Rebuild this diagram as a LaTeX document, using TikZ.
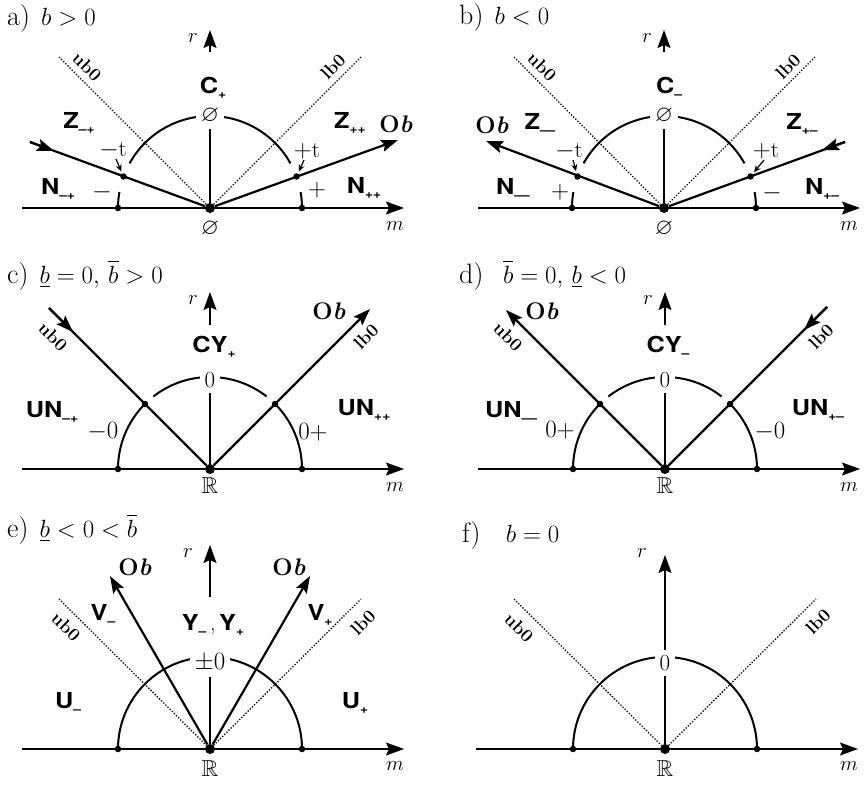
\documentclass[tikz,border=0pt]{standalone}
\usepackage{fontspec,amssymb}
\usetikzlibrary{arrows.meta}
\newfontfamily\hv[FakeStretch=1.15]{TeX Gyre Heros}
\newcommand{\sbl}[2]{{\hv\bfseries #1\raisebox{-0.4ex}{\fontsize{12}{12}\selectfont #2}}}

\begin{document}
\begin{tikzpicture}[x=1pt,y=-1pt,
  axis/.style={line width=1.6pt,-{Stealth[length=18pt,width=13pt,inset=3pt]}},
  rax/.style={line width=1.4pt},
  raxarr/.style={line width=1.6pt,-{Stealth[length=18pt,width=13pt,inset=3pt]}},
  flow/.style={line width=2.2pt},
  flowarr/.style={line width=2.2pt,-{Stealth[length=17pt,width=12pt,inset=3pt]}},
  arcl/.style={line width=2pt},
  bnd/.style={line width=1.3pt,dash pattern=on 1.3pt off 1.7pt},
  dot/.style={circle,fill,inner sep=0pt,minimum size=6.5pt},
  odot/.style={circle,fill,inner sep=0pt,minimum size=10pt},
  tarr/.style={line width=1.2pt,-{Stealth[length=7pt,width=6pt]},shorten >=2pt},
  ttl/.style={anchor=base west,inner sep=0pt,font=\fontsize{28}{33}\selectfont},
  sl/.style={inner sep=0pt,font=\fontsize{22}{26}\selectfont},
  rl/.style={inner sep=0pt,font=\fontsize{23}{27}\selectfont},
  toplbl/.style={inner sep=5pt,fill=white,font=\fontsize{23}{27}\selectfont},
  bl/.style={inner sep=0pt,font=\fontsize{18}{21}\selectfont\bfseries},
  ob/.style={inner sep=0pt,font=\fontsize{24}{28}\selectfont\bfseries},
  vl/.style={inner sep=0pt,font=\fontsize{20}{23}\selectfont}]
\path[use as bounding box] (0,0) rectangle (864,784);

\node[ttl] (a-t) at (7,26) {a)\hspace{0.4em}$b>0$};
\draw[arcl] ([shift={(210,208)}]-180:92) arc[start angle=-180,end angle=-170,radius=92];
\draw[arcl] ([shift={(210,208)}]-151:92) arc[start angle=-151,end angle=-29,radius=92];
\draw[arcl] ([shift={(210,208)}]-10:92) arc[start angle=-10,end angle=0,radius=92];
\node[odot] (a-o) at (210,208) {};
\node[dot] (a-l) at (118,208) {};
\node[dot] (a-r) at (302,208) {};
\node[dot] (a-d1) at (123.5,176.5) {};
\node[dot] (a-d2) at (296.5,176.5) {};
\coordinate (a-m0) at (22,208);
\coordinate (a-m1) at (404,208);
\draw[axis] (a-m0) -- (a-m1);
\node[vl] (a-mm) at (395,226) {$m$};
\node[rl] (a-e) at (210,229) {$\varnothing$};
\node[toplbl] (a-top) at (210,116) {$\varnothing$};
\node[sl] (a-c) at (213,88) {\sbl{C}{+}};
\draw[rax] (a-o) -- (a-top);
\coordinate (a-r0) at (210,52);
\coordinate (a-r1) at (210,30);
\draw[raxarr] (a-r0) -- (a-r1);
\node[vl] (a-rr) at (193,38) {$r$};
\coordinate (a-ub) at (59,57);
\coordinate (a-lb) at (361,57);
\draw[bnd] (a-ub) -- (a-o);
\draw[bnd] (a-o) -- (a-lb);
\node[bl,rotate=-45] (a-ubl) at (87,67) {ub0};
\node[bl,rotate=45] (a-lbl) at (333,67) {lb0};
\coordinate (a-zs) at (30,142);
\coordinate (a-zm) at (54,151);
\draw[flow] (a-zs) -- (a-o);
\draw[flowarr] (a-zs) -- (a-zm);
\coordinate (a-ob) at (398,140);
\draw[flowarr] (a-o) -- (a-ob);
\node[ob] (a-obl) at (396,124) {O\textit{b}};
\node[sl] (a-z1) at (79,123) {\sbl{Z}{–+}};
\node[rl] (a-mt) at (113,150) {$-$t};
\coordinate (a-mta) at (116,159);
\draw[tarr] (a-mta) -- (a-d1);
\node[sl] (a-n1) at (58,189) {\sbl{N}{–+}};
\node[rl] (a-minus) at (102,192) {$-$};
\node[sl] (a-z2) at (350,123) {\sbl{Z}{++}};
\node[rl] (a-pt) at (307,151) {$+$t};
\coordinate (a-pta) at (304,160);
\draw[tarr] (a-pta) -- (a-d2);
\node[rl] (a-plus) at (317,190) {$+$};
\node[sl] (a-n2) at (364,188) {\sbl{N}{++}};

\node[ttl] (b-t) at (459,25) {b)\hspace{0.4em}$b<0$};
\draw[arcl] ([shift={(664,208)}]-180:92) arc[start angle=-180,end angle=-170,radius=92];
\draw[arcl] ([shift={(664,208)}]-151:92) arc[start angle=-151,end angle=-29,radius=92];
\draw[arcl] ([shift={(664,208)}]-10:92) arc[start angle=-10,end angle=0,radius=92];
\node[odot] (b-o) at (664,208) {};
\node[dot] (b-l) at (572,208) {};
\node[dot] (b-r) at (756,208) {};
\node[dot] (b-d1) at (577.5,176.5) {};
\node[dot] (b-d2) at (750.5,176.5) {};
\coordinate (b-m0) at (478,208);
\coordinate (b-m1) at (860,208);
\draw[axis] (b-m0) -- (b-m1);
\node[vl] (b-mm) at (849,226) {$m$};
\node[rl] (b-e) at (664,229) {$\varnothing$};
\node[toplbl] (b-top) at (664,116) {$\varnothing$};
\node[sl] (b-c) at (669,88) {\sbl{C}{–}};
\draw[rax] (b-o) -- (b-top);
\coordinate (b-r0) at (664,52);
\coordinate (b-r1) at (664,30);
\draw[raxarr] (b-r0) -- (b-r1);
\node[vl] (b-rr) at (647,38) {$r$};
\coordinate (b-ub) at (514,57);
\coordinate (b-lb) at (815,57);
\draw[bnd] (b-ub) -- (b-o);
\draw[bnd] (b-o) -- (b-lb);
\node[bl,rotate=-45] (b-ubl) at (542,67) {ub0};
\node[bl,rotate=45] (b-lbl) at (788,67) {lb0};
\coordinate (b-zs) at (845,142);
\coordinate (b-zm) at (822,150);
\draw[flow] (b-zs) -- (b-o);
\draw[flowarr] (b-zs) -- (b-zm);
\coordinate (b-ob) at (486,141);
\draw[flowarr] (b-o) -- (b-ob);
\node[ob] (b-obl) at (492,125) {O\textit{b}};
\node[sl] (b-z1) at (540,124) {\sbl{Z}{––}};
\node[rl] (b-mt) at (569,151) {$-$t};
\coordinate (b-mta) at (573,160);
\draw[tarr] (b-mta) -- (b-d1);
\node[sl] (b-n1) at (513,189) {\sbl{N}{––}};
\node[rl] (b-plus) at (560,192) {$+$};
\node[sl] (b-z2) at (802,124) {\sbl{Z}{+–}};
\node[rl] (b-pt) at (766,151) {$+$t};
\coordinate (b-pta) at (764,160);
\draw[tarr] (b-pta) -- (b-d2);
\node[rl] (b-minus) at (772,193) {$-$};
\node[sl] (b-n2) at (822,189) {\sbl{N}{+–}};

\node[ttl] (c-t) at (7,283) {c)\hspace{0.4em}$\underline{b}=0,\,\overline{b}>0$};
\draw[arcl] ([shift={(210,469)}]-180:92) arc[start angle=-180,end angle=-135,radius=92];
\draw[arcl] ([shift={(210,469)}]-128:92) arc[start angle=-128,end angle=-52,radius=92];
\draw[arcl] ([shift={(210,469)}]-45:92) arc[start angle=-45,end angle=0,radius=92];
\node[odot] (c-o) at (210,469) {};
\node[dot] (c-l) at (118,469) {};
\node[dot] (c-r) at (302,469) {};
\node[dot] (c-d1) at (145,404) {};
\node[dot] (c-d2) at (275,404) {};
\coordinate (c-m0) at (22,469);
\coordinate (c-m1) at (404,469);
\draw[axis] (c-m0) -- (c-m1);
\node[vl] (c-mm) at (395,487) {$m$};
\node[rl] (c-e) at (210,486) {$\mathbb{R}$};
\node[toplbl] (c-top) at (210,380) {0};
\node[sl] (c-c) at (214,347) {\sbl{CY}{+}};
\draw[rax] (c-o) -- (c-top);
\coordinate (c-r0) at (210,325);
\coordinate (c-r1) at (210,292);
\draw[raxarr] (c-r0) -- (c-r1);
\node[vl] (c-rr) at (193,300) {$r$};
\coordinate (c-us) at (49,308);
\coordinate (c-um) at (73,332);
\draw[flow] (c-us) -- (c-o);
\draw[flowarr] (c-us) -- (c-um);
\coordinate (c-lt) at (370,309);
\draw[flowarr] (c-o) -- (c-lt);
\node[ob] (c-obl) at (329,311) {O\textit{b}};
\node[bl,rotate=-45] (c-ubl) at (53,337) {ub0};
\node[bl,rotate=45] (c-lbl) at (366,337) {lb0};
\node[sl] (c-n1) at (52,412) {\sbl{UN}{–+}};
\node[rl] (c-m) at (103,432) {$-0$};
\node[rl] (c-p) at (313,432) {$0+$};
\node[sl] (c-n2) at (364,410) {\sbl{UN}{++}};

\node[ttl] (d-t) at (459,283) {d)\hspace{0.7em}$\overline{b}=0,\,\underline{b}<0$};
\draw[arcl] ([shift={(665,469)}]-180:92) arc[start angle=-180,end angle=-135,radius=92];
\draw[arcl] ([shift={(665,469)}]-128:92) arc[start angle=-128,end angle=-52,radius=92];
\draw[arcl] ([shift={(665,469)}]-45:92) arc[start angle=-45,end angle=0,radius=92];
\node[odot] (d-o) at (665,469) {};
\node[dot] (d-l) at (573,469) {};
\node[dot] (d-r) at (757,469) {};
\node[dot] (d-d1) at (600,404) {};
\node[dot] (d-d2) at (730,404) {};
\coordinate (d-m0) at (478,469);
\coordinate (d-m1) at (860,469);
\draw[axis] (d-m0) -- (d-m1);
\node[vl] (d-mm) at (849,487) {$m$};
\node[rl] (d-e) at (665,486) {$\mathbb{R}$};
\node[toplbl] (d-top) at (665,380) {0};
\node[sl] (d-c) at (668,347) {\sbl{CY}{–}};
\draw[rax] (d-o) -- (d-top);
\coordinate (d-r0) at (665,325);
\coordinate (d-r1) at (665,292);
\draw[raxarr] (d-r0) -- (d-r1);
\node[vl] (d-rr) at (648,300) {$r$};
\coordinate (d-ut) at (506,310);
\draw[flowarr] (d-o) -- (d-ut);
\node[ob] (d-obl) at (542,311) {O\textit{b}};
\coordinate (d-ls) at (827,307);
\coordinate (d-lm) at (804,330);
\draw[flow] (d-ls) -- (d-o);
\draw[flowarr] (d-ls) -- (d-lm);
\node[bl,rotate=-45] (d-ubl) at (508,337) {ub0};
\node[bl,rotate=45] (d-lbl) at (821,337) {lb0};
\node[sl] (d-n1) at (511,412) {\sbl{UN}{––}};
\node[rl] (d-p) at (560,430) {$0+$};
\node[rl] (d-m) at (770,432) {$-0$};
\node[sl] (d-n2) at (818,410) {\sbl{UN}{+–}};

\node[ttl] (e-t) at (7,537) {e)\hspace{0.4em}$\underline{b}<0<\overline{b}$};
\draw[arcl] ([shift={(210,749)}]-180:92) arc[start angle=-180,end angle=0,radius=92];
\node[odot] (e-o) at (210,749) {};
\node[dot] (e-l) at (118,749) {};
\node[dot] (e-r) at (302,749) {};
\coordinate (e-m0) at (22,749);
\coordinate (e-m1) at (404,749);
\draw[axis] (e-m0) -- (e-m1);
\node[vl] (e-mm) at (395,766) {$m$};
\node[rl] (e-e) at (210,769) {$\mathbb{R}$};
\node[toplbl] (e-top) at (210,663) {$\pm0$};
\node[sl] (e-y) at (213,625) {\sbl{Y}{–}\,,\,\sbl{Y}{+}};
\draw[rax] (e-o) -- (e-top);
\coordinate (e-r0) at (210,597);
\coordinate (e-r1) at (210,545);
\draw[raxarr] (e-r0) -- (e-r1);
\node[vl] (e-rr) at (188,553) {$r$};
\coordinate (e-ub) at (59,599);
\coordinate (e-lb) at (361,599);
\draw[bnd] (e-ub) -- (e-o);
\draw[bnd] (e-o) -- (e-lb);
\node[bl,rotate=-45] (e-ubl) at (66,627) {ub0};
\node[bl,rotate=45] (e-lbl) at (363,623) {lb0};
\coordinate (e-vl) at (110,576);
\coordinate (e-vr) at (310,576);
\draw[flowarr] (e-o) -- (e-vl);
\draw[flowarr] (e-o) -- (e-vr);
\node[ob] (e-ob1) at (135,567) {O\textit{b}};
\node[ob] (e-ob2) at (289,567) {O\textit{b}};
\node[sl] (e-v1) at (103,615) {\sbl{V}{–}};
\node[sl] (e-v2) at (320,615) {\sbl{V}{+}};
\node[sl] (e-u1) at (68,703) {\sbl{U}{–}};
\node[sl] (e-u2) at (355,703) {\sbl{U}{+}};

\node[ttl] (f-t) at (462,542) {f)\hspace{0.9em}$b=0$};
\draw[arcl] ([shift={(665,749)}]-180:92) arc[start angle=-180,end angle=0,radius=92];
\node[odot] (f-o) at (665,749) {};
\node[dot] (f-l) at (573,749) {};
\node[dot] (f-r) at (757,749) {};
\coordinate (f-m0) at (476,749);
\coordinate (f-m1) at (858,749);
\draw[axis] (f-m0) -- (f-m1);
\node[vl] (f-mm) at (849,766) {$m$};
\node[rl] (f-e) at (665,769) {$\mathbb{R}$};
\node[toplbl] (f-top) at (665,663) {0};
\coordinate (f-r1) at (665,555);
\draw[rax] (f-o) -- (f-top);
\draw[raxarr] (f-top) -- (f-r1);
\node[vl] (f-rr) at (642,553) {$r$};
\coordinate (f-ub) at (514,599);
\coordinate (f-lb) at (816,599);
\draw[bnd] (f-ub) -- (f-o);
\draw[bnd] (f-o) -- (f-lb);
\node[bl,rotate=-45] (f-ubl) at (519,628) {ub0};
\node[bl,rotate=45] (f-lbl) at (818,622) {lb0};
\end{tikzpicture}
\end{document}
